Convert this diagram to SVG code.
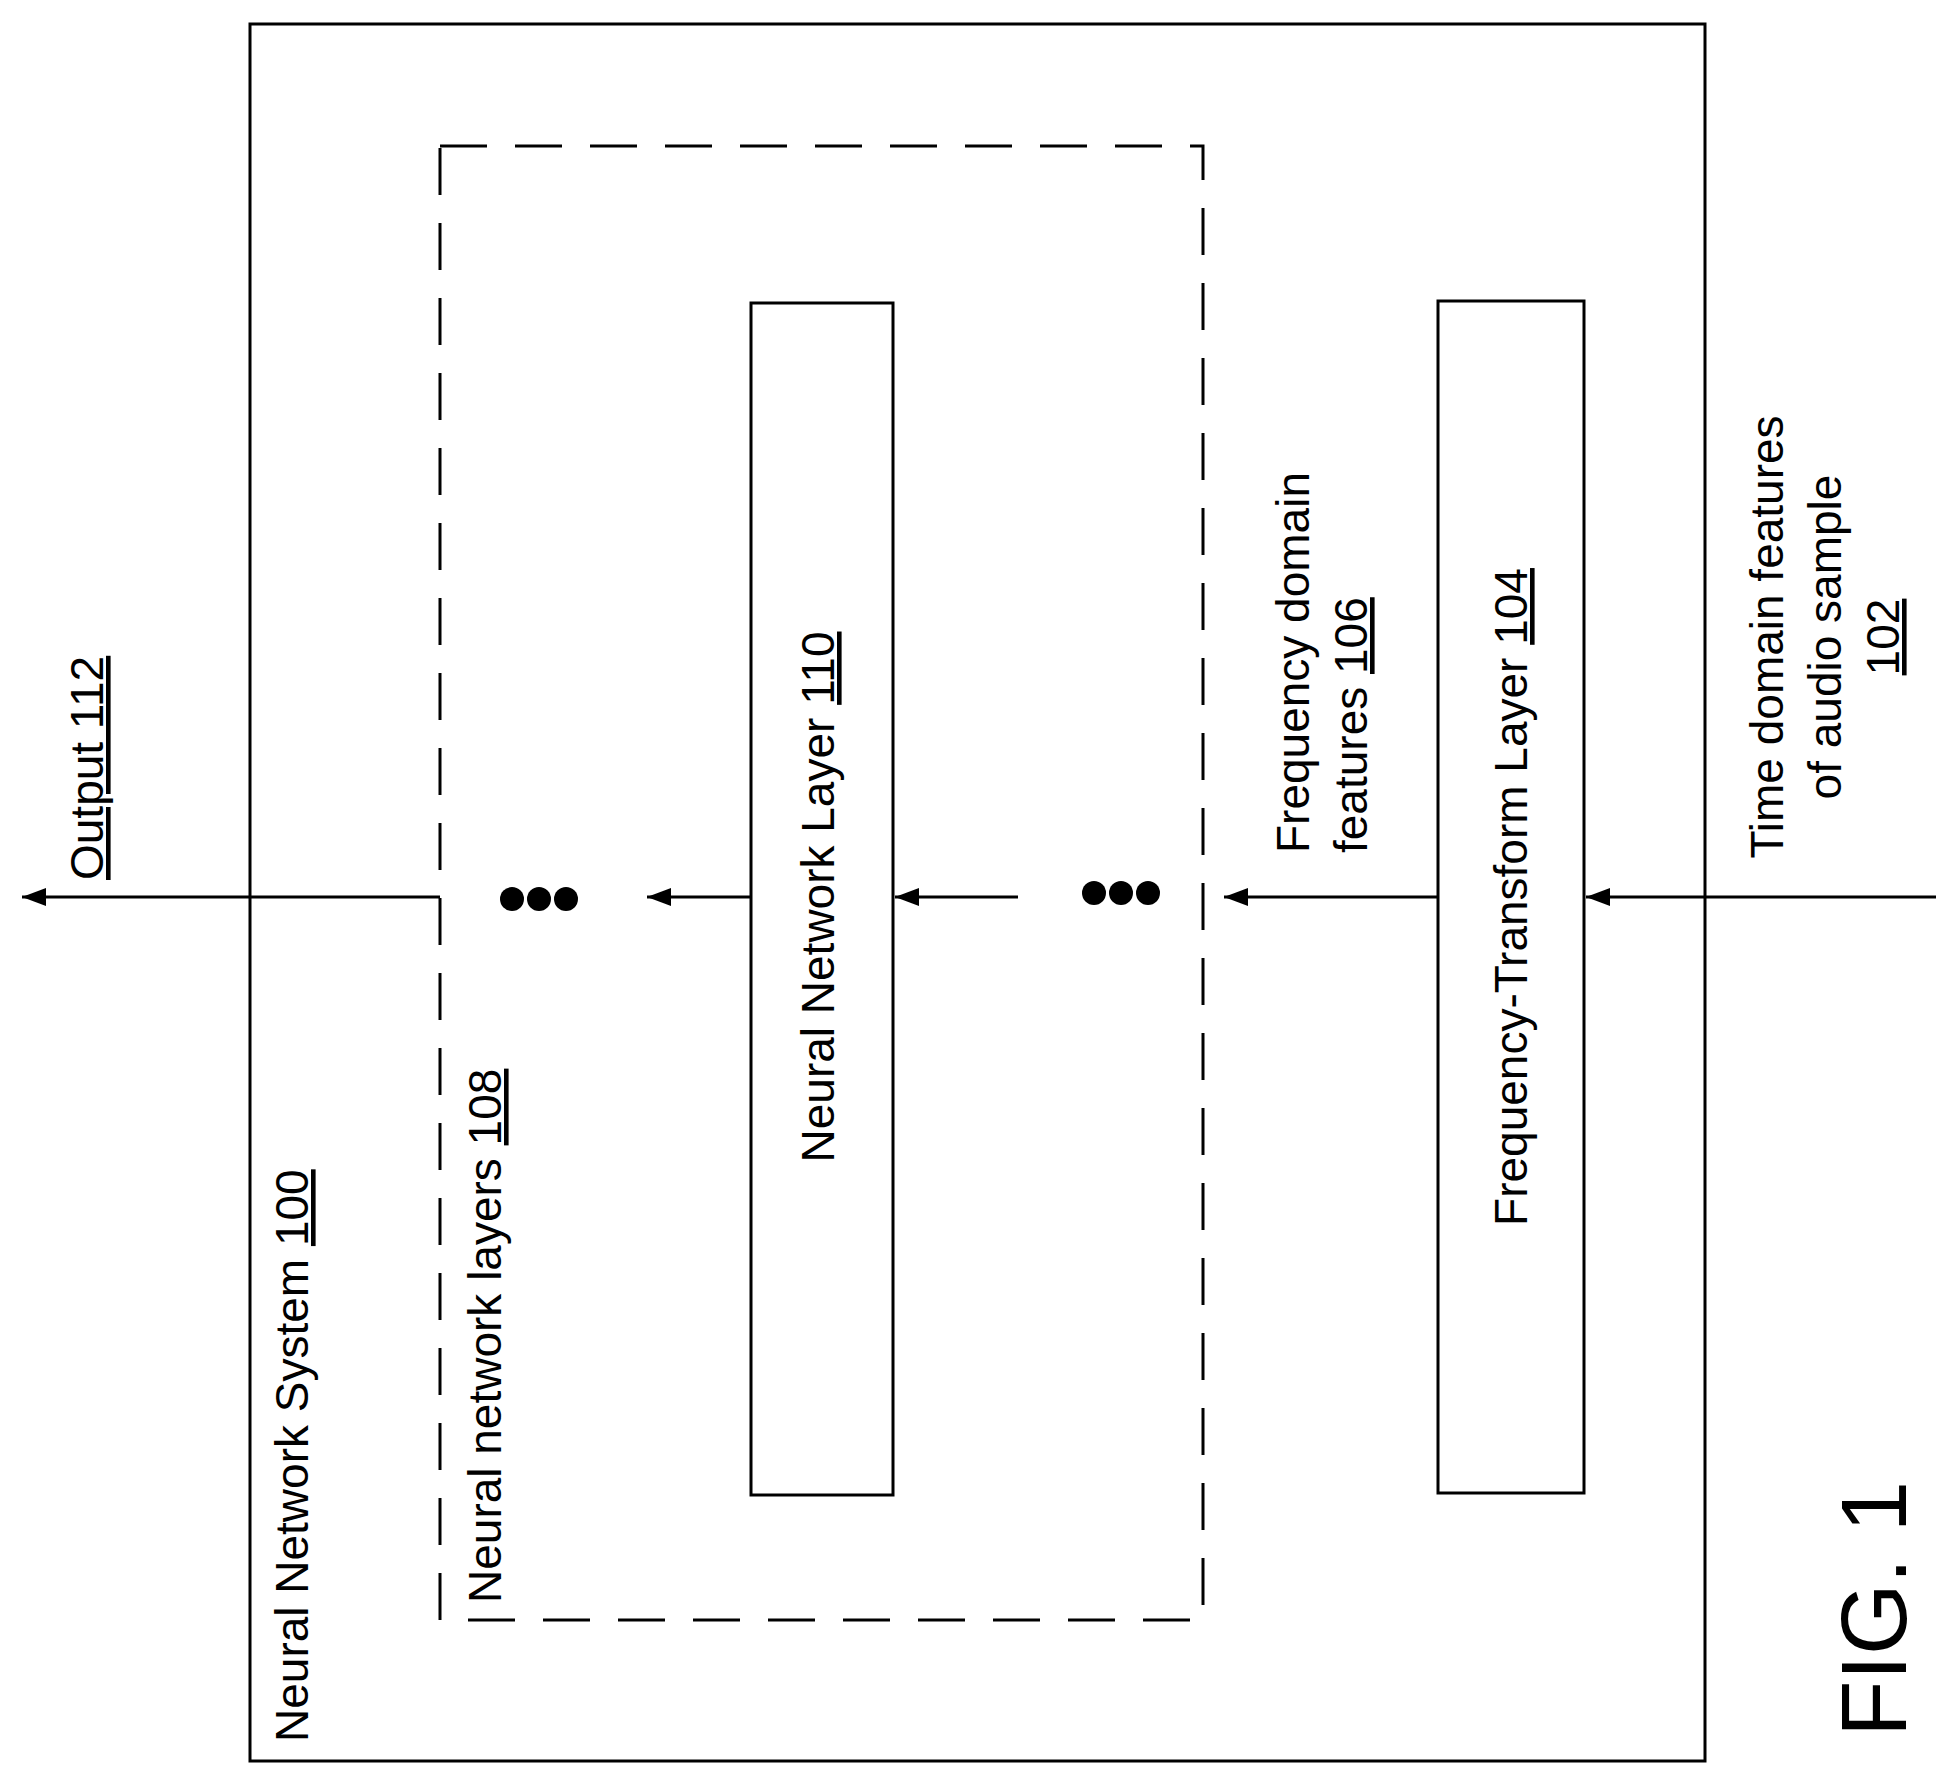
<svg xmlns="http://www.w3.org/2000/svg" width="1949" height="1776" viewBox="0 0 1949 1776">
<style>
.t{font-family:"Liberation Sans",Arial,sans-serif;font-size:46px;fill:#000}
.b{fill:#fff;stroke:#000;stroke-width:3}
.c{stroke:#000;stroke-width:3;fill:none}
</style>
<defs>
<marker id="a" viewBox="0 0 24 18" refX="24" refY="9" markerWidth="24" markerHeight="18" orient="auto" markerUnits="userSpaceOnUse"><path d="M0,0L24,9L0,18z" fill="#000"/></marker></defs>
<rect width="1949" height="1776" fill="#fff"/>
<g id="system"><rect class="b" x="250" y="24" width="1455" height="1737"/>
<text class="t" transform="translate(308,1742) rotate(-90)">Neural Network System <tspan text-decoration="underline">100</tspan></text></g>
<g id="layers"><rect x="440" y="146" width="763" height="1474" fill="none" stroke="#000" stroke-width="3" stroke-dasharray="47 28"/>
<text class="t" transform="translate(501,1603) rotate(-90)">Neural network layers <tspan text-decoration="underline">108</tspan></text></g>
<g id="nn110"><rect class="b" x="751" y="303" width="142" height="1192"/>
<text class="t" text-anchor="middle" transform="translate(834,897) rotate(-90)">Neural Network Layer <tspan text-decoration="underline">110</tspan></text></g>
<g id="ft104"><rect class="b" x="1438" y="301" width="146" height="1192"/>
<text class="t" text-anchor="middle" transform="translate(1527,897) rotate(-90)">Frequency-Transform Layer <tspan text-decoration="underline">104</tspan></text></g>
<g id="input102"><text class="t" text-anchor="middle" transform="translate(1783,637) rotate(-90)"><tspan x="0" y="0">Time domain features</tspan><tspan x="0" y="58">of audio sample</tspan><tspan x="0" y="116" text-decoration="underline">102</tspan></text></g>
<g id="freq106"><text class="t" transform="translate(1309,853) rotate(-90)"><tspan x="0" y="0">Frequency domain</tspan><tspan x="0" y="58">features <tspan text-decoration="underline">106</tspan></tspan></text></g>
<g id="output112"><text class="t" transform="translate(103,880) rotate(-90)" text-decoration="underline">Output 112</text></g>
<g id="connectors">
<line class="c" x1="1936" y1="897" x2="1586" y2="897" marker-end="url(#a)"/>
<line class="c" x1="1438" y1="897" x2="1224" y2="897" marker-end="url(#a)"/>
<line class="c" x1="1018" y1="897" x2="895" y2="897" marker-end="url(#a)"/>
<line class="c" x1="751" y1="897" x2="647" y2="897" marker-end="url(#a)"/>
<line class="c" x1="440" y1="897" x2="22" y2="897" marker-end="url(#a)"/>
<circle cx="1094" cy="893" r="12"/><circle cx="1121" cy="893" r="12"/><circle cx="1148" cy="893" r="12"/>
<circle cx="512" cy="899" r="12"/><circle cx="539" cy="899" r="12"/><circle cx="566" cy="899" r="12"/>
</g>
<text class="t" style="font-size:92px" text-anchor="middle" transform="translate(1906,1609) rotate(-90)">FIG. 1</text>
</svg>
